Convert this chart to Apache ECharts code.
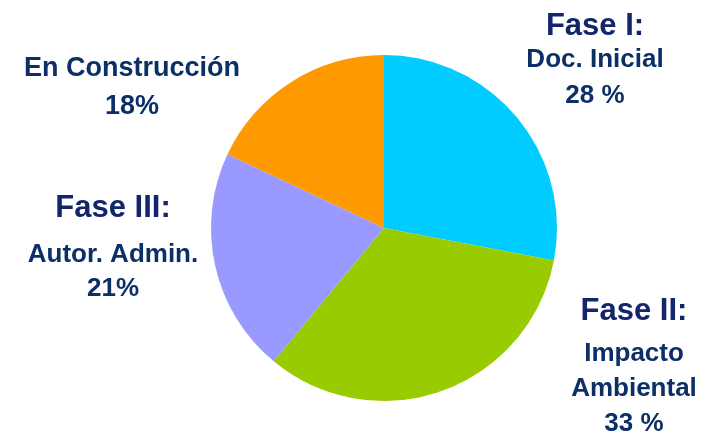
<!DOCTYPE html>
<html>
<head>
<meta charset="utf-8">
<script src="https://cdn.jsdelivr.net/npm/echarts@6/dist/echarts.min.js"></script>
<style>html,body{margin:0;padding:0;background:#fff}#c{width:720px;height:436px}</style>
</head>
<body>
<div id="c"></div>
<script>
var categories = ['Fase I: Doc. Inicial', 'Fase II: Impacto Ambiental', 'Fase III: Autor. Admin.', 'En Construcción'];
var values = [28, 33, 21, 18];
var headings = ['Fase I:', 'Fase II:', 'Fase III:', ''];
var subtitles = [['Doc. Inicial'], ['Impacto', 'Ambiental'], ['Autor. Admin.'], ['En Construcción']];
var pctLabels = ['28 %', '33 %', '21%', '18%'];
var colors = ['#00CCFF', '#99CC00', '#9999FF', '#FF9900'];

// label placement and spacing (layout only, not data)
var labelPos = [[595, 10], [634, 287], [113, 178], [132, 50]];
var headLineH = [32, 49, 60, 40];
var subLineH = [36, 35, 34, 38];
var subFont = [26, 26, 26, 27];

var FONT = 'Liberation Sans, Arial, sans-serif';
var rich = {};
for (var k = 0; k < 4; k++) {
  rich['h' + k] = {fontFamily: FONT, fontWeight: 'bold', fontSize: 31, lineHeight: headLineH[k], color: '#13266B', align: 'center'};
  rich['s' + k] = {fontFamily: FONT, fontWeight: 'bold', fontSize: subFont[k], lineHeight: subLineH[k], color: '#0B2F66', align: 'center'};
}

var chart = echarts.init(document.getElementById('c'), null, {renderer: 'canvas'});
chart.setOption({
  animation: false,
  series: [{
    type: 'pie',
    center: [384, 228],
    radius: [0, 173],
    startAngle: 90,
    clockwise: true,
    avoidLabelOverlap: false,
    emphasis: {disabled: true},
    labelLine: {show: false},
    data: categories.map(function (n, i) {
      return {name: n, value: values[i], itemStyle: {color: colors[i]}};
    }),
    label: {
      show: true,
      position: 'outside',
      formatter: function (p) {
        var i = p.dataIndex;
        var lines = [];
        if (headings[i]) lines.push('{h' + i + '|' + headings[i] + '}');
        subtitles[i].forEach(function (s) { lines.push('{s' + i + '|' + s + '}'); });
        lines.push('{s' + i + '|' + pctLabels[i] + '}');
        return lines.join('\n');
      },
      rich: rich
    },
    labelLayout: function (params) {
      var p = labelPos[params.dataIndex];
      return {x: p[0], y: p[1], align: 'center', verticalAlign: 'top'};
    }
  }]
});
</script>
</body>
</html>
